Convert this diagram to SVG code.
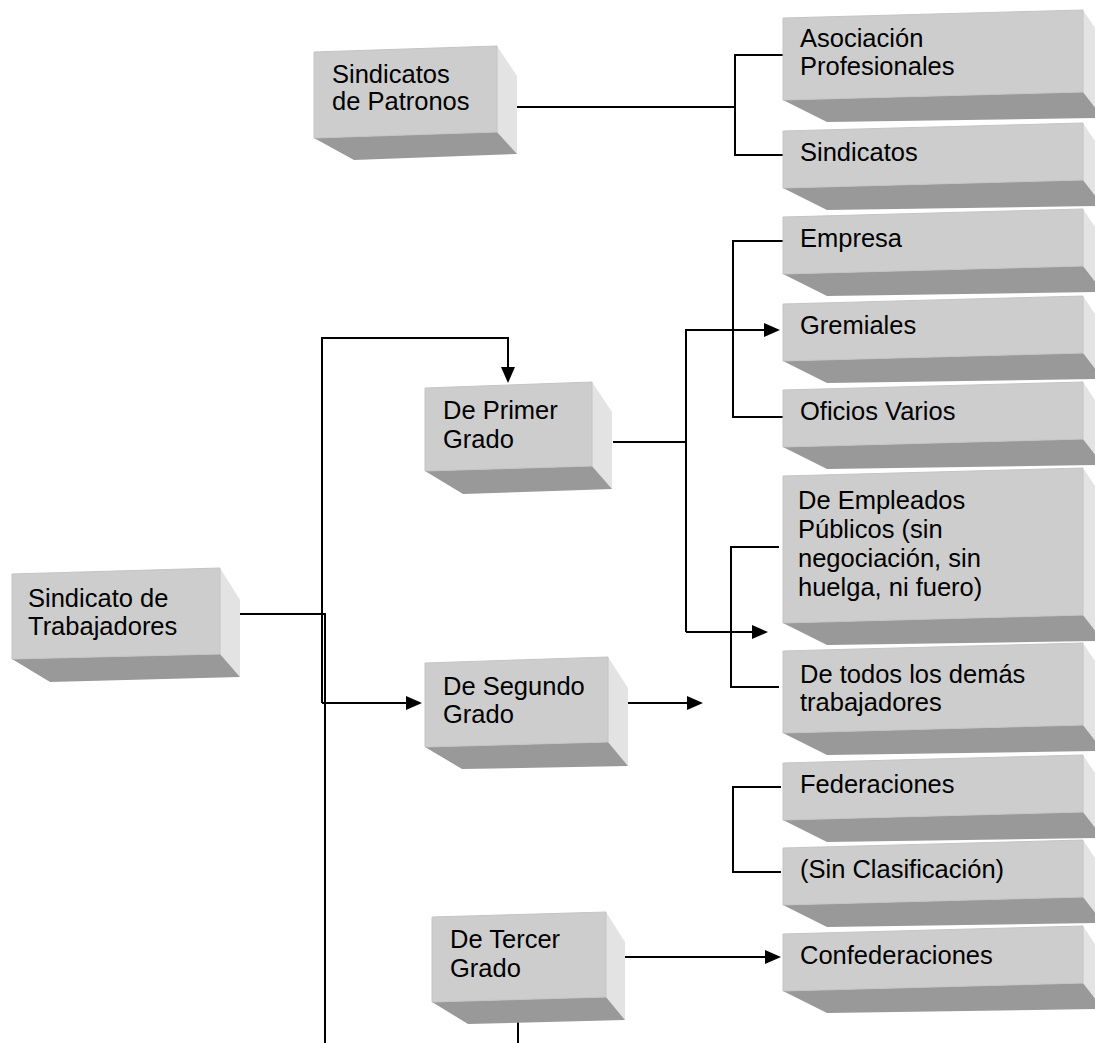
<svg xmlns="http://www.w3.org/2000/svg" width="1095" height="1043" viewBox="0 0 1095 1043">
<style>
.front{fill:#cdcdcd;stroke:#c4c4c4;stroke-width:1}
.side{fill:#e3e3e3}
.bottom{fill:#999999}
text{font-family:"Liberation Sans",Arial,sans-serif;font-size:25.5px;fill:#000}
.conn path{fill:none;stroke:#000;stroke-width:2}
</style>
<defs>
<marker id="arr" markerWidth="16" markerHeight="14" refX="14" refY="7" orient="auto" markerUnits="userSpaceOnUse"><path d="M0,0 L16,7 L0,14 z" fill="#000"/></marker>
</defs>
<rect width="1095" height="1043" fill="#fff"/>

<g class="conn" id="connectors">
<path d="M517,107 H735"/>
<path d="M783,55 H735 V155 H783"/>
<path d="M783,241 H733 V417 H783"/>
<path d="M613,442 H686"/>
<path d="M686,632 V330 H778" marker-end="url(#arr)"/>
<path d="M686,632 H766" marker-end="url(#arr)"/>
<path d="M779,547 H731 V687 H779"/>
<path d="M628,703 H701" marker-end="url(#arr)"/>
<path d="M781,787 H733 V872 H781"/>
<path d="M625,957 H779" marker-end="url(#arr)"/>
<path d="M240,614 H325 V1043"/>
<path d="M322,703 V338 H508 V381" marker-end="url(#arr)"/>
<path d="M322,703 H420" marker-end="url(#arr)"/>
<path d="M518,1020 V1043"/>
</g>

<g id="sindicatos-patronos">
<polygon class="side" points="497,46 517,76 517,154 497,132"/>
<polygon class="bottom" points="314,138 497,132 517,154 354,160"/>
<polygon class="front" points="314,52 497,46 497,132 314,138"/>
<text x="332" y="83">Sindicatos</text>
<text x="332" y="110">de Patronos</text>
</g>

<g id="sindicato-trabajadores">
<polygon class="side" points="220,568 240,600 240,677 220,654"/>
<polygon class="bottom" points="12,659 220,654 240,677 50,682"/>
<polygon class="front" points="12,574 220,568 220,654 12,659"/>
<text x="28" y="607">Sindicato de</text>
<text x="28" y="635">Trabajadores</text>
</g>

<g id="primer-grado">
<polygon class="side" points="592,382 612,412 612,489 592,466"/>
<polygon class="bottom" points="425,471 592,466 612,489 463,494"/>
<polygon class="front" points="425,388 592,382 592,466 425,471"/>
<text x="443" y="419">De Primer</text>
<text x="443" y="448">Grado</text>
</g>

<g id="segundo-grado">
<polygon class="side" points="608,657 628,688 628,766 608,742"/>
<polygon class="bottom" points="425,747 608,742 628,766 462,769"/>
<polygon class="front" points="425,663 608,657 608,742 425,747"/>
<text x="443" y="695">De Segundo</text>
<text x="443" y="723">Grado</text>
</g>

<g id="tercer-grado">
<polygon class="side" points="606,912 625,942 625,1020 606,997"/>
<polygon class="bottom" points="432,1002 606,997 625,1020 468,1024"/>
<polygon class="front" points="432,917 606,912 606,997 432,1002"/>
<text x="450" y="948">De Tercer</text>
<text x="450" y="977">Grado</text>
</g>

<g id="asociacion">
<polygon class="side" points="1083,10 1103,40 1103,118 1083,92"/>
<polygon class="bottom" points="783,100 1083,92 1103,118 827,122"/>
<polygon class="front" points="783,18 1083,10 1083,92 783,100"/>
<text x="800" y="47">Asociación</text>
<text x="800" y="75">Profesionales</text>
</g>

<g id="sindicatos">
<polygon class="side" points="1083,123 1103,153 1103,206 1083,180"/>
<polygon class="bottom" points="783,188 1083,180 1103,206 827,210"/>
<polygon class="front" points="783,131 1083,123 1083,180 783,188"/>
<text x="800" y="161">Sindicatos</text>
</g>

<g id="empresa">
<polygon class="side" points="1083,209 1103,239 1103,292 1083,266"/>
<polygon class="bottom" points="783,274 1083,266 1103,292 827,296"/>
<polygon class="front" points="783,217 1083,209 1083,266 783,274"/>
<text x="800" y="247">Empresa</text>
</g>

<g id="gremiales">
<polygon class="side" points="1083,296 1103,326 1103,379 1083,353"/>
<polygon class="bottom" points="783,361 1083,353 1103,379 827,383"/>
<polygon class="front" points="783,304 1083,296 1083,353 783,361"/>
<text x="800" y="334">Gremiales</text>
</g>

<g id="oficios-varios">
<polygon class="side" points="1083,382 1103,412 1103,465 1083,439"/>
<polygon class="bottom" points="783,447 1083,439 1103,465 827,469"/>
<polygon class="front" points="783,390 1083,382 1083,439 783,447"/>
<text x="800" y="420">Oficios Varios</text>
</g>

<g id="empleados-publicos">
<polygon class="side" points="1083,468 1103,498 1103,641 1083,615"/>
<polygon class="bottom" points="783,623 1083,615 1103,641 827,645"/>
<polygon class="front" points="783,476 1083,468 1083,615 783,623"/>
<text x="798" y="509">De Empleados</text>
<text x="798" y="538">Públicos (sin</text>
<text x="798" y="567">negociación, sin</text>
<text x="798" y="596">huelga, ni fuero)</text>
</g>

<g id="demas-trabajadores">
<polygon class="side" points="1083,643 1103,673 1103,751 1083,725"/>
<polygon class="bottom" points="783,733 1083,725 1103,751 827,755"/>
<polygon class="front" points="783,651 1083,643 1083,725 783,733"/>
<text x="800" y="683">De todos los demás</text>
<text x="800" y="711">trabajadores</text>
</g>

<g id="federaciones">
<polygon class="side" points="1083,755 1103,785 1103,838 1083,812"/>
<polygon class="bottom" points="783,820 1083,812 1103,838 827,842"/>
<polygon class="front" points="783,763 1083,755 1083,812 783,820"/>
<text x="800" y="793">Federaciones</text>
</g>

<g id="sin-clasificacion">
<polygon class="side" points="1083,840 1103,870 1103,923 1083,897"/>
<polygon class="bottom" points="783,905 1083,897 1103,923 827,927"/>
<polygon class="front" points="783,848 1083,840 1083,897 783,905"/>
<text x="800" y="878">(Sin Clasificación)</text>
</g>

<g id="confederaciones">
<polygon class="side" points="1083,926 1103,956 1103,1009 1083,983"/>
<polygon class="bottom" points="783,991 1083,983 1103,1009 827,1013"/>
<polygon class="front" points="783,934 1083,926 1083,983 783,991"/>
<text x="800" y="964">Confederaciones</text>
</g>
</svg>
